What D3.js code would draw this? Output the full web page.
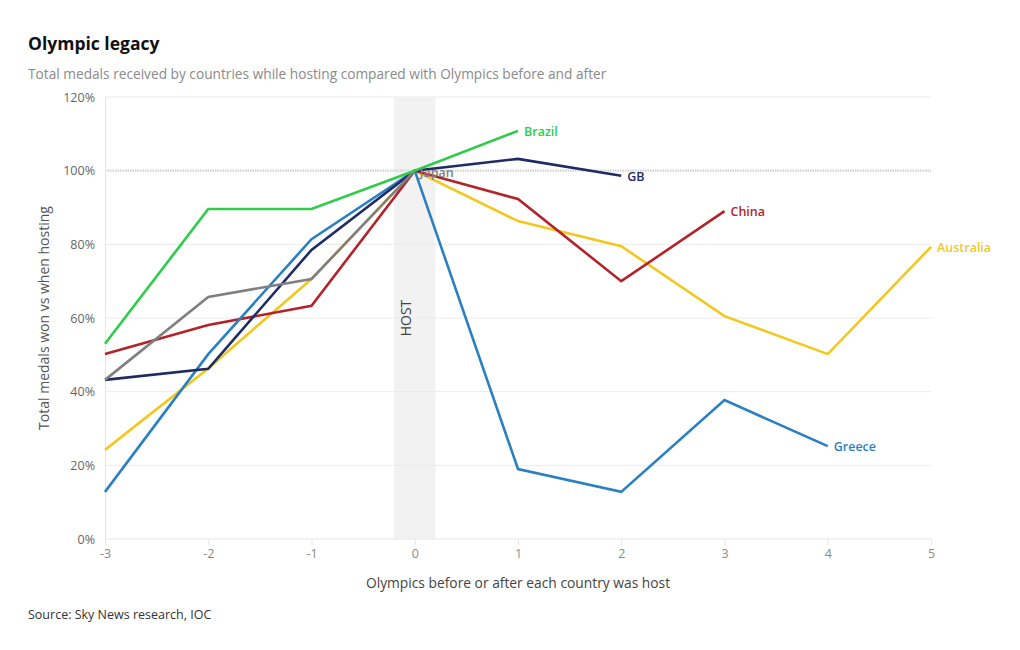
<!DOCTYPE html>
<html><head><meta charset="utf-8">
<script src="https://cdn.jsdelivr.net/npm/d3@7"></script>
<style>
body{margin:0;background:#fff;font-family:"Open Sans",sans-serif;}
</style></head>
<body><svg id="c" width="1020" height="650"></svg>
<script>
const xTicks = [-3,-2,-1,0,1,2,3,4,5];
const yTicks = [0,20,40,60,80,100,120];
const australia = [24.2,46.3,70.6,100,86.3,79.5,60.5,50.2,79.3];
const china = [50.2,58.1,63.3,100,92.3,70,89];
const greece = [12.8,50.2,81.4,100,19,12.8,37.7,25.2];
const gb = [43.2,46.2,78.5,100,103.2,98.6];
const japan = [43.2,65.7,70.6,100];
const brazil = [53,89.6,89.6,100,110.8];
const seriesNames = ["Australia","China","Greece","GB","Japan","Brazil"];
const seriesValues = [australia,china,greece,gb,japan,brazil];
const seriesColors = ["#f2c81f","#b5232a","#2b80c2","#1f2b66","#808080","#2ecc4a"];

const svg = d3.select("#c");
const x = d3.scaleLinear().domain([-3,5]).range([105,931]);
const y = d3.scaleLinear().domain([0,120]).range([539,97]);

svg.append("text").attr("x",28).attr("y",50).text("Olympic legacy")
  .attr("font-size",17.5).attr("font-weight",700).attr("fill","#111");
svg.append("text").attr("x",28).attr("y",79).text("Total medals received by countries while hosting compared with Olympics before and after")
  .attr("font-size",13.7).attr("fill","#8a8a8a");

// host band
svg.append("rect").attr("x",x(-0.2)).attr("y",y(120)).attr("width",x(0.2)-x(-0.2)).attr("height",y(0)-y(120)).attr("fill","#f2f2f2");

// grid
svg.append("g").selectAll("line").data(yTicks.filter(d=>d!==100 && d!==0)).join("line")
  .attr("x1",105).attr("x2",931).attr("y1",d=>y(d)).attr("y2",d=>y(d))
  .attr("stroke","#ebebeb").attr("stroke-width",1);
svg.append("line").attr("x1",105).attr("x2",931).attr("y1",y(100)).attr("y2",y(100))
  .attr("stroke","#d2d2d2").attr("stroke-width",2.2).attr("stroke-dasharray","1.5,1");

// axes
const yAxis = d3.axisLeft(y).tickValues(yTicks).tickFormat(d=>d+"%").tickSize(0).tickPadding(10);
const gy = svg.append("g").attr("transform","translate(105,0)").call(yAxis);
gy.select(".domain").attr("stroke","#e6e6e6");
gy.selectAll("text").attr("font-size",12.5).attr("fill","#666").attr("font-family","Open Sans");

const xAxis = d3.axisBottom(x).tickValues(xTicks).tickFormat(d=>String(d)).tickSize(6).tickPadding(4);
const gx = svg.append("g").attr("transform","translate(0,539)").call(xAxis);
gx.select(".domain").attr("stroke","#e6e6e6").attr("d","M105,0H931");
gx.selectAll(".tick line").attr("stroke","#e6e6e6");
gx.selectAll("text").attr("font-size",12.5).attr("fill","#8a8a8a").attr("font-family","Open Sans");

svg.append("text").attr("transform",`translate(411,318) rotate(-90)`)
  .attr("text-anchor","middle").text("HOST").attr("font-size",14).attr("fill","#444");

svg.append("text").attr("transform","translate(49,318) rotate(-90)").attr("text-anchor","middle")
  .text("Total medals won vs when hosting").attr("font-size",14).attr("fill","#555");
svg.append("text").attr("x",518).attr("y",588).attr("text-anchor","middle")
  .text("Olympics before or after each country was host").attr("font-size",13.8).attr("fill","#444");
svg.append("text").attr("x",28).attr("y",619).text("Source: Sky News research, IOC")
  .attr("font-size",12.5).attr("fill","#333");

const line = d3.line().x((d,i)=>x(xTicks[i])).y(d=>y(d));
seriesValues.forEach((vals,k)=>{
  svg.append("path").attr("d",line(vals)).attr("fill","none")
    .attr("stroke",seriesColors[k]).attr("stroke-width",2.6).attr("stroke-linejoin","miter");
});
seriesValues.forEach((vals,k)=>{
  const name = seriesNames[k];
  if(name==="Japan"){
    svg.append("text").attr("x",x(0)+5).attr("y",y(100)+6).text("Japan")
      .attr("font-size",12.5).attr("fill","#808080").attr("font-weight",600);
  } else {
    const i = vals.length-1;
    svg.append("text").attr("x",x(xTicks[i])+6).attr("y",y(vals[i])+5).text(name)
      .attr("font-size",12.5).attr("font-weight",600).attr("fill",seriesColors[k]);
  }
});
</script></body></html>
